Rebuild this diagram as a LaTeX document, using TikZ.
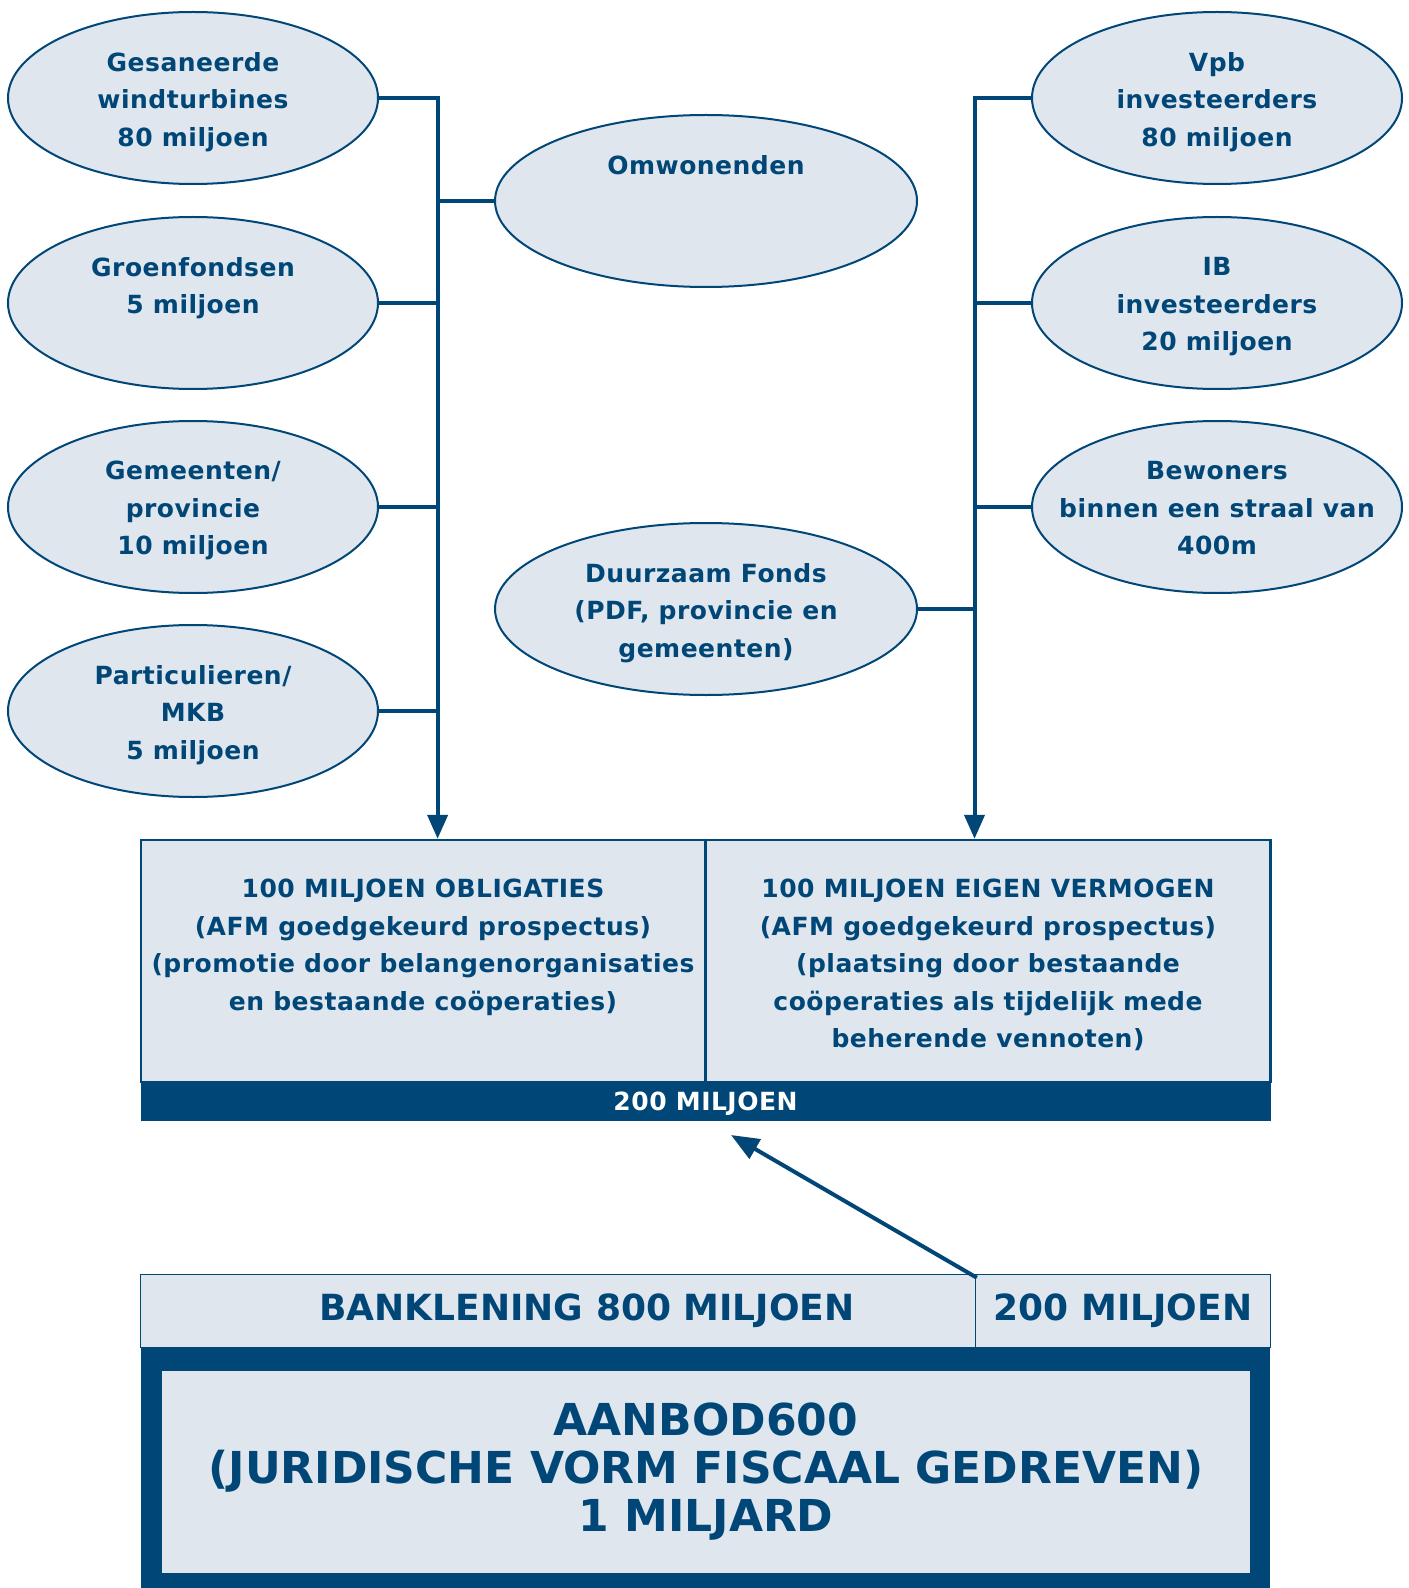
\documentclass[tikz,border=0pt]{standalone}
\usepackage{fontspec}
\setmainfont{DejaVu Sans}
\newfontfamily\spaced{DejaVu Sans}[LetterSpace=2]
\usetikzlibrary{shapes.geometric,arrows.meta,positioning}
\definecolor{navy}{HTML}{004677}
\definecolor{pale}{HTML}{DFE6EE}
\tikzset{
  oval/.style={ellipse, draw=navy, fill=pale, line width=1pt, minimum width=185pt, minimum height=86pt, inner sep=0pt},
  wideoval/.style={oval, minimum width=211pt},
  boxtext/.style={font=\spaced\bfseries\fontsize{12.5}{18.75}\selectfont, text=navy, align=center, inner sep=0pt},
  ovaltext/.style={boxtext, yshift=-3.4pt, execute at begin node=\strut, execute at end node=\strut},
  link/.style={draw=navy, line width=2pt},
  flow/.style={link, -{Triangle[length=12pt,width=10pt]}},
  cell/.style={rectangle, draw=navy, fill=pale, line width=1.2pt, inner sep=0pt},
  banktext/.style={font=\bfseries\fontsize{18}{22}\selectfont, text=navy, inner sep=0pt}
}
\begin{document}
\begin{tikzpicture}[x=0.5pt, y=-0.5pt]
  \useasboundingbox (0,0) rectangle (1408,1588);

  \foreach \nm/\x/\y/\txt in {
    gesan/193/98/{Gesaneerde\\windturbines\\80 miljoen},
    groen/193/303/{Groenfondsen\\5 miljoen\\~},
    gemeente/193/507/{Gemeenten/\\provincie\\10 miljoen},
    partic/193/711/{Particulieren/\\MKB\\5 miljoen},
    vpb/1217/98/{Vpb\\investeerders\\80 miljoen},
    ib/1217/303/{IB\\investeerders\\20 miljoen},
    bewon/1217/507/{Bewoners\\binnen een straal van\\400m}} {
    \node[oval] (\nm) at (\x,\y) {};
    \node[ovaltext] (\nm-txt) at (\nm) {\txt};
  }
  \node[wideoval] (omw) at (706,201) {};
  \node[ovaltext] (omw-txt) at (omw) {Omwonenden\\~\\~};
  \node[wideoval] (fonds) at (706,609) {};
  \node[ovaltext] (fonds-txt) at (fonds) {Duurzaam Fonds\\(PDF, provincie en\\gemeenten)};

  \node[cell, minimum width=282.1pt, minimum height=121pt] (oblig) at (423,961) {};
  \node[cell, minimum width=282.6pt, minimum height=121pt] (eigen) at (988,961) {};
  \node[boxtext, below=20pt of oblig.north] (oblig-txt) {100 MILJOEN OBLIGATIES\\(AFM goedgekeurd prospectus)\\(promotie door belangenorganisaties\\en bestaande coöperaties)};
  \node[boxtext, below=20pt of eigen.north] (eigen-txt) {100 MILJOEN EIGEN VERMOGEN\\(AFM goedgekeurd prospectus)\\(plaatsing door bestaande\\coöperaties als tijdelijk mede\\beherende vennoten)};
  \node[rectangle, fill=navy, text=white, font=\spaced\bfseries\fontsize{12.5}{15}\selectfont, text depth=0pt, minimum width=565pt, minimum height=19.7pt, inner sep=0pt] (total) at (705.5,1101.7) {200 MILJOEN};

  \node[cell, line width=0.8pt, minimum width=417.4pt, minimum height=36.5pt] (bank) at (558,1311) {};
  \node[cell, line width=0.8pt, minimum width=147.4pt, minimum height=36.5pt, banktext] (share) at (1123,1311) {200 MILJOEN};
  \node[banktext] (bank-txt) at (587,1311) {BANKLENING 800 MILJOEN};
  \node[rectangle, fill=navy, minimum width=564.8pt, minimum height=120.4pt, inner sep=0pt] (frame) at (705.5,1467.6) {};
  \node[rectangle, fill=pale, minimum width=544pt, minimum height=101.2pt, inner sep=0pt, align=center, text=navy, font=\bfseries\fontsize{22}{24}\selectfont] (core) at (706,1471.8) {AANBOD600\\(JURIDISCHE VORM FISCAAL GEDREVEN)\\1 MILJARD};

  \coordinate (lbus) at (437.6,0);
  \coordinate (rbus) at (974.5,0);
  \draw[flow] (gesan.east) -| (lbus |- oblig.north);
  \foreach \nm in {groen,gemeente,partic} {
    \draw[link] (\nm.east) -- (\nm.east -| lbus);
  }
  \draw[link] (omw.west) -- (omw.west -| lbus);
  \draw[flow] (vpb.west) -| (rbus |- eigen.north);
  \foreach \nm in {ib,bewon} {
    \draw[link] (\nm.west) -- (\nm.west -| rbus);
  }
  \draw[link] (fonds.east) -- (fonds.east -| rbus);

  \coordinate (upfrom) at ([shift={(2,4)}]share.north west);
  \coordinate (upto) at (731,1135);
  \draw[link, -{Triangle[length=14pt,width=11pt]}] (upfrom) -- (upto);
\end{tikzpicture}
\end{document}
